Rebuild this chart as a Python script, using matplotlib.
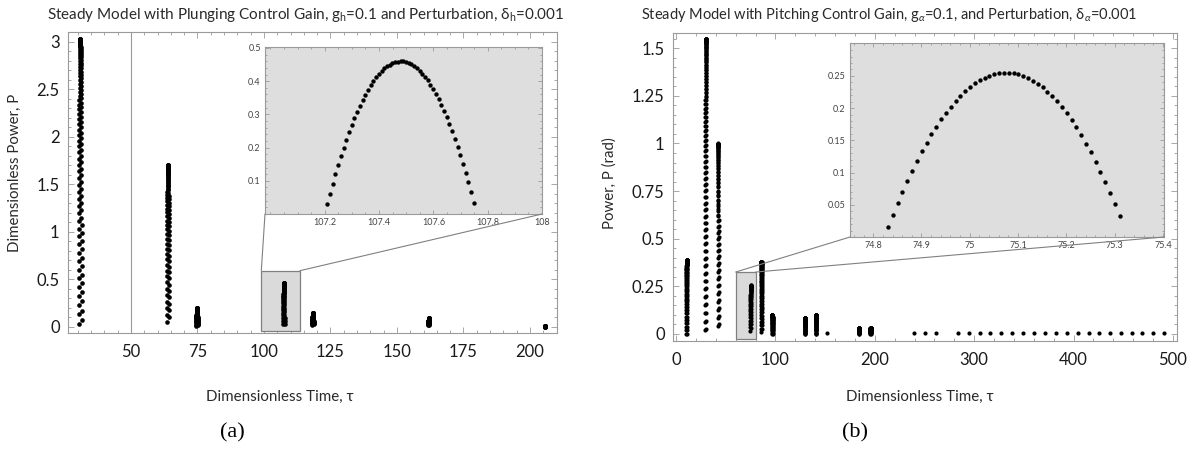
import numpy as np
import matplotlib
matplotlib.use("Agg")
import matplotlib.pyplot as plt
from matplotlib.patches import Rectangle, ConnectionPatch

plt.rcParams["font.family"] = ["Lato", "DejaVu Sans"]
plt.rcParams["mathtext.fontset"] = "custom"
plt.rcParams["mathtext.rm"] = "Lato"
plt.rcParams["mathtext.it"] = "Lato:italic"

# ---------------- data ----------------
# Panel (a): plunging control. Each burst is an arc of power samples in time.
tau_a = [30.9, 63.9, 74.8, 107.48, 118.4, 162.0, 205.7]
peak_a = [3.03, 1.70, 0.20, 0.46, 0.15, 0.09, 0.012]
halfwidth_a = [0.6, 0.45, 0.3, 0.28, 0.3, 0.25, 0.1]
pend_a = [0.03, 0.05, 0.01, 0.03, 0.02, 0.02, 0.0]

# Panel (b): pitching control
tau_b = [10.7, 30.0, 42.5, 75.075, 86.0, 97.0, 129.6, 141.0, 184.0, 195.7]
peak_b = [0.39, 1.55, 1.00, 0.255, 0.38, 0.10, 0.085, 0.10, 0.03, 0.03]
halfwidth_b = [0.4, 0.69, 0.44, 0.252, 0.4, 0.3, 0.3, 0.3, 0.2, 0.2]
pend_b = [0.0, 0.02, 0.04, 0.015, 0.01, 0.0, 0.0, 0.0, 0.0, 0.0]

# isolated single samples in panel (b)
tau_b_single = [152, 239, 250, 262, 284, 294.5, 305.5, 316, 327, 338, 349,
                360, 371, 382, 393, 404, 415, 426, 437, 448, 459, 469, 480, 491]
p_b_single = [0.005] * len(tau_b_single)

dt = 0.01  # sampling step of the time series

xticks_a = [50, 75, 100, 125, 150, 175, 200]
yticks_a = [0, 0.5, 1, 1.5, 2, 2.5, 3]
yticklabels_a = ["0", "0.5", "1", "1.5", "2", "2.5", "3"]
xticks_ins_a = [107.2, 107.4, 107.6, 107.8, 108]
xticklabels_ins_a = ["107.2", "107.4", "107.6", "107.8", "108"]
yticks_ins_a = [0.1, 0.2, 0.3, 0.4, 0.5]
yticklabels_ins_a = ["0.1", "0.2", "0.3", "0.4", "0.5"]

xticks_b = [0, 100, 200, 300, 400, 500]
yticks_b = [0, 0.25, 0.5, 0.75, 1, 1.25, 1.5]
yticklabels_b = ["0", "0.25", "0.5", "0.75", "1", "1.25", "1.5"]
xticks_ins_b = [74.8, 74.9, 75.0, 75.1, 75.2, 75.3, 75.4]
xticklabels_ins_b = ["74.8", "74.9", "75", "75.1", "75.2", "75.3", "75.4"]
yticks_ins_b = [0.05, 0.1, 0.15, 0.2, 0.25]
yticklabels_ins_b = ["0.05", "0.1", "0.15", "0.2", "0.25"]


def bursts(tc, pk, hw, pe):
    ts, ps = [], []
    for c, p, h, e in zip(tc, pk, hw, pe):
        half = h * np.sqrt(1 - e / p)
        t = np.arange(c - half, c + half + 1e-9, dt)
        ts.append(t)
        ps.append(p * (1 - ((t - c) / h) ** 2))
    return np.concatenate(ts), np.concatenate(ps)


ta, pa = bursts(tau_a, peak_a, halfwidth_a, pend_a)
tb, pb = bursts(tau_b, peak_b, halfwidth_b, pend_b)

# ---------------- figure ----------------
W, H = 1197, 449
fig = plt.figure(figsize=(W / 100, H / 100), dpi=100)


def px_axes(x0, x1, y0, y1):
    return fig.add_axes([x0 / W, 1 - y1 / H, (x1 - x0) / W, (y1 - y0) / H])


FRAME = "#9a9a9a"


def style(ax, size, pad_x, pad_y, color, major=4, minor=2):
    for s in ax.spines.values():
        s.set_color(FRAME)
        s.set_linewidth(0.8)
    ax.tick_params(which="both", direction="in", top=True, right=True,
                   colors=FRAME, labelcolor=color, labelsize=size, width=0.6)
    ax.tick_params(which="major", length=major)
    ax.tick_params(which="minor", length=minor)
    ax.tick_params(axis="x", pad=pad_x)
    ax.tick_params(axis="y", pad=pad_y)


# ----- panel (a) -----
ax_a = px_axes(68, 557, 32, 333)
ax_a.set_xlim(26.3, 210.2)
ax_a.set_ylim(-0.065, 3.1)
ax_a.axvline(50, color=FRAME, lw=0.8, zorder=1)
ax_a.add_patch(Rectangle((99, -0.04), 14.5, 0.63, facecolor="#dadada",
                         edgecolor="#808080", lw=0.9, zorder=2))
ax_a.scatter(ta, pa, s=11, color="black", linewidths=0, zorder=3)
ax_a.set_xticks(xticks_a)
ax_a.set_yticks(yticks_a)
ax_a.set_yticklabels(yticklabels_a)
ax_a.set_xticks(np.arange(30, 210, 5), minor=True)
ax_a.set_yticks(np.arange(0, 3.1, 0.1), minor=True)
style(ax_a, 12, 8, 6, "#1a1a1a")

ins_a = px_axes(265, 542, 47, 214)
ins_a.set_facecolor("#dedede")
ins_a.set_xlim(106.98, 108.0)
ins_a.set_ylim(0, 0.503)
ins_a.scatter(ta, pa, s=10, color="black", linewidths=0, zorder=3)
ins_a.set_xticks(xticks_ins_a)
ins_a.set_xticklabels(xticklabels_ins_a)
ins_a.set_yticks(yticks_ins_a)
ins_a.set_yticklabels(yticklabels_ins_a)
ins_a.set_xticks(np.arange(107.0, 108.0, 0.05), minor=True)
ins_a.set_yticks(np.arange(0, 0.5, 0.02), minor=True)
style(ins_a, 6.5, 3, 3, "#444444", major=3, minor=1.5)

for xyA, xyB in [((99, 0.59), (0, 0)), ((113.5, 0.59), (1, 0))]:
    fig.add_artist(ConnectionPatch(xyA=xyA, coordsA=ax_a.transData,
                                   xyB=xyB, coordsB=ins_a.transAxes,
                                   color="#808080", lw=0.8))

# ----- panel (b) -----
ax_b = px_axes(673, 1177, 33, 341)
ax_b.set_xlim(-3, 504)
ax_b.set_ylim(-0.037, 1.58)
ax_b.add_patch(Rectangle((60, -0.026), 20, 0.351, facecolor="#dadada",
                         edgecolor="#808080", lw=0.9, zorder=2))
ax_b.scatter(tb, pb, s=9, color="black", linewidths=0, zorder=3)
ax_b.scatter(tau_b_single, p_b_single, s=9, color="black", linewidths=0, zorder=3)
ax_b.set_xticks(xticks_b)
ax_b.set_yticks(yticks_b)
ax_b.set_yticklabels(yticklabels_b)
ax_b.set_xticks(np.arange(0, 501, 20), minor=True)
ax_b.set_yticks(np.arange(0, 1.56, 0.05), minor=True)
style(ax_b, 12, 8, 6, "#1a1a1a")

ins_b = px_axes(850, 1164, 43, 237)
ins_b.set_facecolor("#dedede")
ins_b.set_xlim(74.752, 75.402)
ins_b.set_ylim(0, 0.301)
ins_b.scatter(tb, pb, s=10, color="black", linewidths=0, zorder=3)
ins_b.set_xticks(xticks_ins_b)
ins_b.set_xticklabels(xticklabels_ins_b)
ins_b.set_yticks(yticks_ins_b)
ins_b.set_yticklabels(yticklabels_ins_b)
ins_b.set_xticks(np.arange(74.76, 75.40, 0.02), minor=True)
ins_b.set_yticks(np.arange(0, 0.30, 0.01), minor=True)
style(ins_b, 6.5, 3, 3, "#444444", major=3, minor=1.5)

for xyA, xyB in [((60, 0.325), (0, 0)), ((80, 0.325), (1, 0))]:
    fig.add_artist(ConnectionPatch(xyA=xyA, coordsA=ax_b.transData,
                                   xyB=xyB, coordsB=ins_b.transAxes,
                                   color="#808080", lw=0.8))

# ----- text -----
TXT = "#2a2a2a"


def ftext(x, y, s, **kw):
    fig.text(x / W, 1 - y / H, s, ha="center", va="center", **kw)


ftext(306, 15, "Steady Model with Plunging Control Gain, g$_\\mathregular{h}$=0.1 "
      "and Perturbation, δ$_\\mathregular{h}$=0.001", fontsize=11, color=TXT)
ftext(889, 15, "Steady Model with Pitching Control Gain, g$_\\alpha$=0.1, "
      "and Perturbation, δ$_\\alpha$=0.001", fontsize=10.5, color=TXT)
ftext(280, 397, "Dimensionless Time, τ", fontsize=10.9, color=TXT)
ftext(920, 397, "Dimensionless Time, τ", fontsize=10.9, color=TXT)
ftext(15, 173, "Dimensionless Power, P", fontsize=10.8, color=TXT, rotation=90)
ftext(610, 183, "Power, P (rad)", fontsize=10.8, color=TXT, rotation=90)
ftext(232, 433, "(a)", fontsize=16, color="black", family="Liberation Serif")
ftext(855, 433, "(b)", fontsize=16, color="black", family="Liberation Serif")

fig.savefig("out.png", dpi=100)
